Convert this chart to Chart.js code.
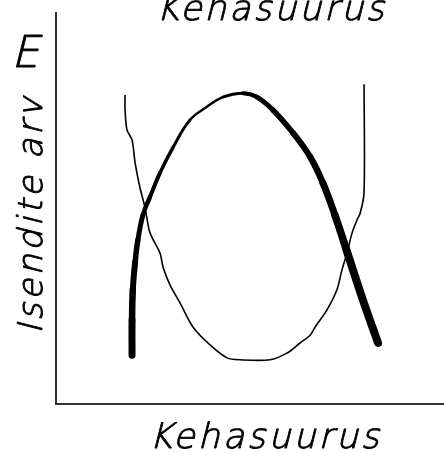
<!DOCTYPE html>
<html>
<head>
<meta charset="utf-8">
<script src="https://cdn.jsdelivr.net/npm/chart.js@4.4.1/dist/chart.umd.min.js"></script>
<style>
  html, body { margin: 0; padding: 0; background: #fff; }
  canvas { display: block; }
</style>
</head>
<body>
<canvas id="sketch" width="444" height="452"></canvas>
<script>
// ----- DATA -----
// x = body size, y = number of individuals, both on a 0..100 scale
const thickX = [19.6, 19.6, 19.8, 20.4, 21.1, 22.4, 24.2, 26.8, 30.2, 34.5, 38.9, 43.0, 48.2, 51.8, 55.9, 61.1, 65.5, 68.8, 71.9, 74.7, 79.1, 83.0]
const thickY = [12.5, 21.5, 29.2, 36.3, 41.9, 48.3, 52.9, 59.1, 65.7, 72.6, 76.0, 78.5, 79.5, 78.5, 75.2, 69.3, 63.2, 56.5, 48.3, 39.9, 26.6, 15.6]

const thinX = [17.8, 17.8, 18.3, 19.6, 20.4, 21.6, 22.9, 24.0, 24.7, 26.8, 27.6, 29.4, 32.0, 35.3, 39.7, 44.1, 47.4, 55.2, 59.5, 62.9, 65.5, 66.8, 69.8, 72.4, 73.7, 75.0, 76.3, 77.6, 78.4, 79.4, 79.4]
const thinY = [79.0, 75.2, 70.1, 67.5, 61.6, 55.5, 50.4, 44.5, 42.7, 38.6, 35.0, 30.4, 25.8, 19.7, 15.1, 11.8, 11.3, 11.3, 13.0, 15.6, 17.6, 19.7, 24.0, 29.2, 34.3, 38.6, 43.7, 47.1, 48.8, 54.0, 81.8]

const chartTitle = 'Kehasuurus'
const xTitle = 'Kehasuurus'
const yTitle = 'Isendite arv'
const cornerMark = 'E'

// pen pressure along the thick stroke, one value per segment
const thickTaper = [7, 6.5, 6, 5.5, 5, 4.5, 4, 3.5, 3, 2.5, 2.5, 3, 4, 5, 5.5, 6, 6.5, 7, 7.5, 8, 8]

const toPoints = (xs, ys) => xs.map((x, i) => ({ x, y: ys[i] }))

// ----- HAND-LETTERED TEXT -----
// stretch the text to a given width with letter spacing, baseline at (x, y)
function handText(ctx, text, x, y, size, width, angle) {
  ctx.save()
  ctx.translate(x, y)
  ctx.rotate(angle || 0)
  ctx.font = `italic 200 ${size}px "DejaVu Sans Light", "DejaVu Sans"`
  ctx.fillStyle = '#000'
  ctx.strokeStyle = '#000'
  ctx.lineWidth = 0.9
  ctx.lineJoin = 'round'
  ctx.textAlign = 'left'
  ctx.textBaseline = 'alphabetic'
  ctx.letterSpacing = '0px'
  const natural = ctx.measureText(text).width
  if (width && text.length > 1) {
    ctx.letterSpacing = (width - natural) / (text.length - 1) + 'px'
  }
  const w = width || natural
  ctx.fillText(text, -w / 2, 0)
  ctx.strokeText(text, -w / 2, 0)
  ctx.restore()
}

const labelsPlugin = {
  id: 'labels',
  afterDraw(chart) {
    const { ctx, chartArea: a } = chart
    handText(ctx, chartTitle, a.left + 214, a.top + 7, 35, 228)
    handText(ctx, xTitle, a.left + 208, a.bottom + 44, 35, 230)
    handText(ctx, yTitle, a.left - 14, 216, 34, 236, -Math.PI / 2)
    handText(ctx, cornerMark, 25, 67, 44)
  },
}

// ----- CHART -----
const ctx = document.getElementById('sketch').getContext('2d')

new Chart(ctx, {
  type: 'scatter',
  data: {
    datasets: [
      {
        data: toPoints(thickX, thickY),
        showLine: true,
        borderColor: '#000',
        borderWidth: 5,
        borderCapStyle: 'round',
        borderJoinStyle: 'round',
        tension: 0.4,
        pointRadius: 0,
        segment: {
          borderWidth: (c) => thickTaper[c.p0DataIndex],
        },
      },
      {
        data: toPoints(thinX, thinY),
        showLine: true,
        borderColor: '#000',
        borderWidth: 1.6,
        tension: 0.3,
        pointRadius: 0,
      },
    ],
  },
  options: {
    responsive: false,
    animation: false,
    layout: { padding: { top: 13, left: 56, right: 0, bottom: 48 } },
    plugins: {
      legend: { display: false },
      tooltip: { enabled: false },
    },
    scales: {
      x: {
        type: 'linear',
        min: 0,
        max: 100,
        grid: { display: false, drawTicks: false },
        ticks: { display: false },
        border: { color: '#333', width: 2 },
      },
      y: {
        type: 'linear',
        min: 0,
        max: 100,
        grid: { display: false, drawTicks: false },
        ticks: { display: false },
        border: { color: '#333', width: 2 },
      },
    },
  },
  plugins: [labelsPlugin],
})
</script>
</body>
</html>
